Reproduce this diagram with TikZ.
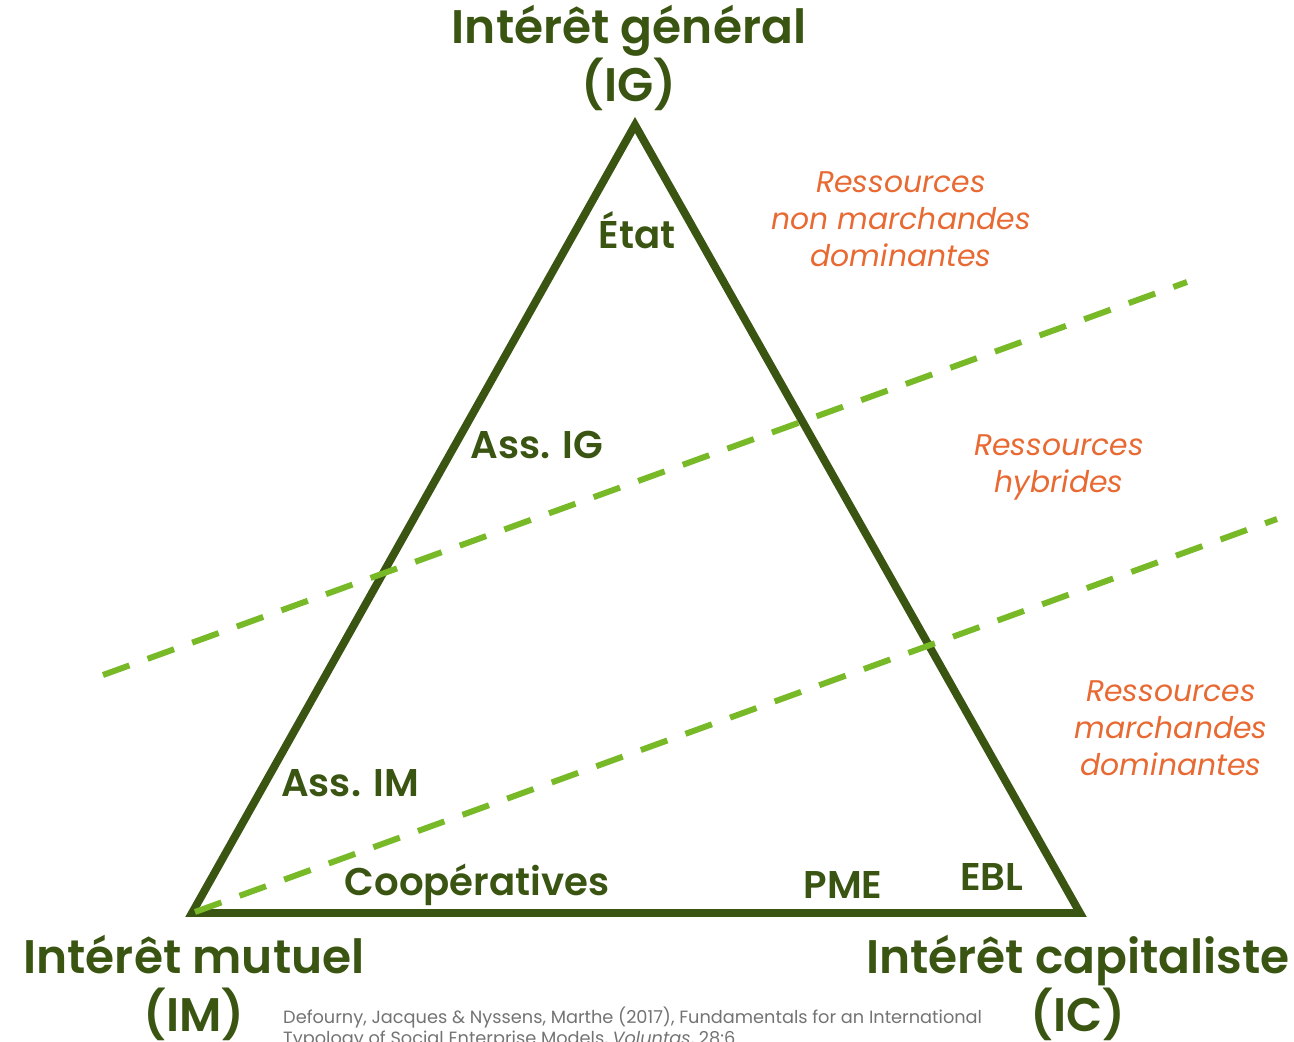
\documentclass[tikz,border=0pt]{standalone}
\usepackage{fontspec}
\setmainfont{Poppins}[BoldFont={Poppins SemiBold}, BoldItalicFont={Poppins SemiBold Italic}]
\usepackage{tikz}
\usepackage{xcolor}
\usetikzlibrary{positioning}
\usetikzlibrary{calc}
\definecolor{darkleaf}{RGB}{58,84,18}
\definecolor{lightleaf}{RGB}{120,185,40}
\definecolor{resscaption}{RGB}{232,105,50}
\definecolor{citecaption}{gray}{.45}

\begin{document}
\begin{tikzpicture}[x=0.02cm,y=-0.02cm]
      \useasboundingbox (0,0) rectangle (1294,1041);
      \coordinate (ig) at (635,125);
      \coordinate (im) at (192,913);
      \coordinate (ic) at (1080,913);
      \draw[darkleaf, line width=4.5pt, line join=miter] (ig) -- (ic) -- (im) -- cycle;
      \coordinate (limA) at (103,675);
      \coordinate (limB) at (1187,282);
      \coordinate (limC) at (195,912);
      \coordinate (limD) at (1277,519);
      \draw[lightleaf, line width=3.4pt, dash pattern=on 16pt off 11pt] (limA) -- (limB);
      \draw[lightleaf, line width=3.4pt, dash pattern=on 16pt off 11pt] (limC) -- (limD);
      \node [align=center, font=\fontsize{26.8}{32.5}\selectfont\bfseries, text=darkleaf] (gen) at (629,58) {Intérêt général\\(IG)};
      \node [align=center, font=\fontsize{26.8}{32.5}\selectfont\bfseries, text=darkleaf] (mut) at (194,988) {Intérêt mutuel\\(IM)};
      \node [align=center, font=\fontsize{26.8}{32.5}\selectfont\bfseries, text=darkleaf] (cap) at (1078,988) {Intérêt capitaliste\\(IC)};
      \node [font=\fontsize{22}{26}\selectfont\bfseries, text=darkleaf] (etat) at (637,230) {État};
      \node [font=\fontsize{22}{26}\selectfont\bfseries, text=darkleaf] (assig) at (537,445) {Ass. IG};
      \node [font=\fontsize{22}{26}\selectfont\bfseries, text=darkleaf] (assim) at (350,783) {Ass. IM};
      \node [font=\fontsize{22}{26}\selectfont\bfseries, text=darkleaf] (coop) at (477,885) {Coopératives};
      \node [font=\fontsize{22}{26}\selectfont\bfseries, text=darkleaf] (pme) at (843,885) {PME};
      \node [font=\fontsize{22}{26}\selectfont\bfseries, text=darkleaf] (ebl) at (992,877) {EBL};
      \node [align=center, font=\fontsize{17}{21}\selectfont\itshape, text=resscaption] (nonmarch) at (901,219) {Ressources\\non marchandes\\dominantes};
      \node [align=center, font=\fontsize{17}{21}\selectfont\itshape, text=resscaption] (hybr) at (1059,467) {Ressources\\hybrides};
      \node [align=center, font=\fontsize{17}{21}\selectfont\itshape, text=resscaption] (march) at (1171,728) {Ressources\\marchandes\\dominantes};
      \node [align=left, anchor=north west, font=\fontsize{10.1}{12}\selectfont, text=citecaption] (cite) at (277,1001) {Defourny, Jacques \& Nyssens, Marthe (2017), Fundamentals for an International\\Typology of Social Enterprise Models, \textit{Voluntas}, 28:6};
    \end{tikzpicture}
\end{document}
